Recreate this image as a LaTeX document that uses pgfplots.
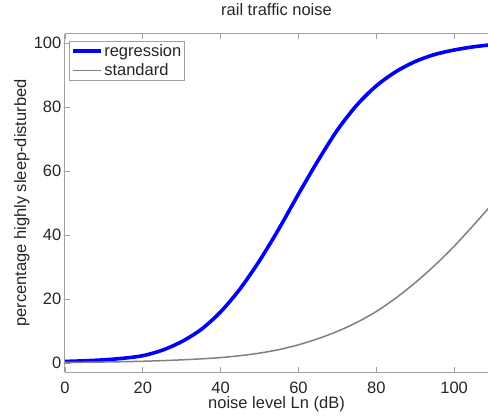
\documentclass[border=0pt]{standalone}
\usepackage{pgfplots}
\pgfplotsset{compat=1.18}
\usepackage{fontspec}
\setmainfont{Liberation Sans}
\definecolor{axgray}{HTML}{A0A0A0}
\definecolor{txt}{HTML}{262626}
\definecolor{stdgray}{HTML}{808080}
\begin{document}
\begin{tikzpicture}
\begin{axis}[
    scale only axis,
    width=423pt, height=338pt,
    xmin=0, xmax=108.7,
    ymin=-2.8, ymax=102.8,
    xtick={0,20,...,100},
    ytick={0,20,...,100},
    axis x line=box,
    axis y line*=left,
    axis line style={axgray, line width=1pt},
    tick style={axgray, line width=0.8pt},
    tick align=inside,
    major tick length=5pt,
    font=\fontsize{16.5}{18}\selectfont,
    tick label style={txt},
    xticklabel style={inner sep=0pt, anchor=center, yshift=-15.5pt},
    yticklabel style={inner sep=0pt, anchor=east, xshift=-3.5pt},
    /pgf/number format/assume math mode=true,
    title={rail traffic noise},
    title style={txt, at={(axis description cs:0.5,1.053)}, anchor=center, inner sep=0pt},
    xlabel={noise level Ln (dB)},
    ylabel={percentage highly sleep-disturbed},
    xlabel style={txt, at={(axis description cs:0.5,-0.095)}, anchor=center, inner sep=0pt},
    ylabel style={txt, at={(axis description cs:-0.1017,0.5)}, anchor=center, inner sep=0pt},
    legend cell align=left,
    legend style={at={(axis description cs:0.0102,0.98)}, anchor=north west, draw=axgray,
        line width=0.8pt, text=txt, inner xsep=1pt, inner ysep=1pt, row sep=2pt,
        nodes={inner sep=2pt},
        font=\fontsize{16.5}{18}\selectfont},
    legend image code/.code={\draw[#1] (0pt,0pt) -- (28pt,0pt);},
]
\addplot[blue, line width=3.6pt, smooth] coordinates {
 (0,0.5) (5,0.7) (10,1.0) (15,1.5) (20,2.3) (25,4.0) (30,6.7) (35,10.5)
 (40,16) (45,23.2) (50,32) (55,42) (60,52.8) (65,63.2) (70,72.8)
 (75,80.6) (80,86.6) (85,91) (90,94.2) (95,96.4) (100,97.8) (105,98.8) (110,99.5)
};
\addplot[stdgray, line width=1.5pt, smooth] coordinates {
 (0,0.2) (5,0.25) (10,0.32) (15,0.42) (20,0.55) (25,0.75) (30,1.0) (35,1.3)
 (40,1.7) (45,2.3) (50,3.1) (55,4.2) (60,5.7) (65,7.6) (70,9.9) (75,12.7)
 (80,16.1) (85,20.3) (90,25.1) (95,30.5) (100,36.5) (105,43.1) (110,50)
};
\legend{regression, standard}
\coordinate (bl) at (rel axis cs:0,0);
\end{axis}
\pgfresetboundingbox
\path[use as bounding box] ([shift={(-65pt,-44pt)}]bl) rectangle ([shift={(423pt,372pt)}]bl);
\end{tikzpicture}
\end{document}
